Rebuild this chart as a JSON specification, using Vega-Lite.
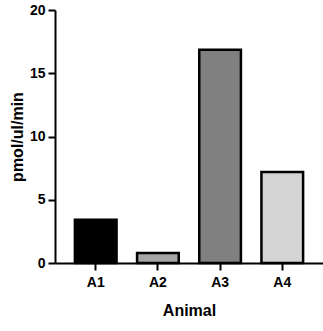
{
  "$schema": "https://vega.github.io/schema/vega-lite/v6.json",
  "width": 268,
  "height": 253,
  "autosize": {"type": "none"},
  "padding": {"left": 55, "top": 10, "right": 0, "bottom": 68},
  "background": "white",
  "config": {
    "view": {"stroke": null},
    "font": "Liberation Sans",
    "axis": {
      "grid": false,
      "domainColor": "black",
      "domainWidth": 2,
      "tickColor": "black",
      "tickWidth": 2,
      "tickSize": 7,
      "labelFont": "Liberation Sans",
      "labelFontWeight": "bold",
      "labelFontSize": 14,
      "labelColor": "black",
      "titleFont": "Liberation Sans",
      "titleFontWeight": "bold",
      "titleFontSize": 16,
      "titleColor": "black"
    }
  },
  "data": {
    "values": [
      {"Animal": "A1", "value": 3.42, "color": "#000000"},
      {"Animal": "A2", "value": 0.8, "color": "#a6a6a6"},
      {"Animal": "A3", "value": 16.85, "color": "#808080"},
      {"Animal": "A4", "value": 7.2, "color": "#d4d4d4"}
    ]
  },
  "mark": {"type": "bar", "stroke": "black", "strokeWidth": 2.5},
  "encoding": {
    "x": {
      "field": "Animal",
      "type": "nominal",
      "scale": {"paddingInner": 0.33, "paddingOuter": 0.32},
      "axis": {"labelAngle": 0, "labelPadding": 5, "titlePadding": 13, "title": "Animal"}
    },
    "y": {
      "field": "value",
      "type": "quantitative",
      "scale": {"domain": [0, 20], "nice": false},
      "axis": {"values": [0, 5, 10, 15, 20], "labelPadding": 3, "titlePadding": 4, "title": "pmol/ul/min"}
    },
    "fill": {"field": "color", "type": "nominal", "scale": null, "legend": null}
  }
}
